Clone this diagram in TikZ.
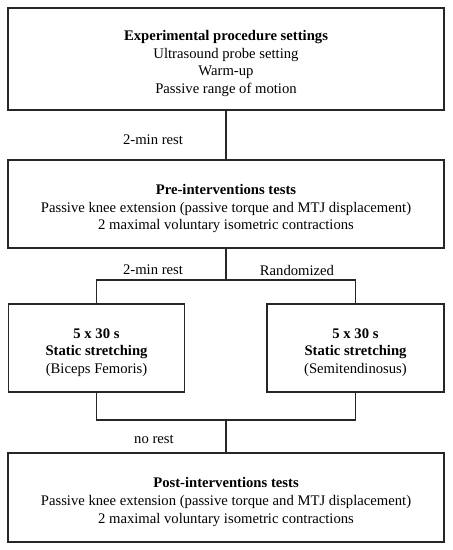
\documentclass[tikz,border=0pt]{standalone}
\usepackage{fontspec}
\setmainfont{Liberation Serif}
\begin{document}
\begin{tikzpicture}[x=0.75pt,y=-0.75pt,
  box/.style={draw=black!85,line width=1pt,inner sep=0pt},
  txt/.style={align=center,inner sep=0pt,yshift=-3.4pt,
    font=\fontsize{11pt}{13.3pt}\selectfont},
  lbl/.style={font=\fontsize{11pt}{13.3pt}\selectfont,inner sep=0pt},
  conn/.style={draw=black!85,line width=1pt}]
\useasboundingbox (0,0) rectangle (453,550);
\node[box,minimum width=327pt,minimum height=76.5pt] (b1) at (226,59) {};
\node[box,minimum width=327pt,minimum height=66pt] (b2) at (226,204) {};
\node[box,minimum width=132pt,minimum height=66pt] (bl) at (96.5,348) {};
\node[box,minimum width=132.75pt,minimum height=66pt] (br) at (355.5,348) {};
\node[box,minimum width=327pt,minimum height=66.75pt] (b4) at (226,497.5) {};
\node[txt] (t1) at (b1.center)
  {\textbf{Experimental procedure settings}\\Ultrasound probe setting\\Warm-up\\Passive range of motion};
\node[txt] (t2) at (b2.center)
  {\textbf{Pre-interventions tests}\\Passive knee extension (passive torque and MTJ displacement)\\2 maximal voluntary isometric contractions};
\node[txt] (tl) at (bl.center)
  {\textbf{5 x 30 s}\\\textbf{Static stretching}\\(Biceps Femoris)};
\node[txt] (tr) at (br.center)
  {\textbf{5 x 30 s}\\\textbf{Static stretching}\\(Semitendinosus)};
\node[txt] (t4) at (b4.center)
  {\textbf{Post-interventions tests}\\Passive knee extension (passive torque and MTJ displacement)\\2 maximal voluntary isometric contractions};
\coordinate (s1) at (226,280);
\coordinate (s1l) at (96.5,280);
\coordinate (s1r) at (355.5,280);
\coordinate (j1) at (226,420);
\coordinate (j1l) at (96.5,420);
\coordinate (j1r) at (355.5,420);
\draw[conn] (b1.south) -- (b2.north);
\draw[conn] (b2.south) -- (s1);
\draw[conn] (bl.north) -- (s1l) -- (s1r) -- (br.north);
\draw[conn] (bl.south) -- (j1l) -- (j1r) -- (br.south);
\draw[conn] (j1) -- (b4.north);
\node[lbl] (r1) at (153,140) {2-min rest};
\node[lbl] (r2) at (153,270) {2-min rest};
\node[lbl] (r3) at (297,270) {Randomized};
\node[lbl] (r4) at (154,439) {no rest};
\end{tikzpicture}
\end{document}
